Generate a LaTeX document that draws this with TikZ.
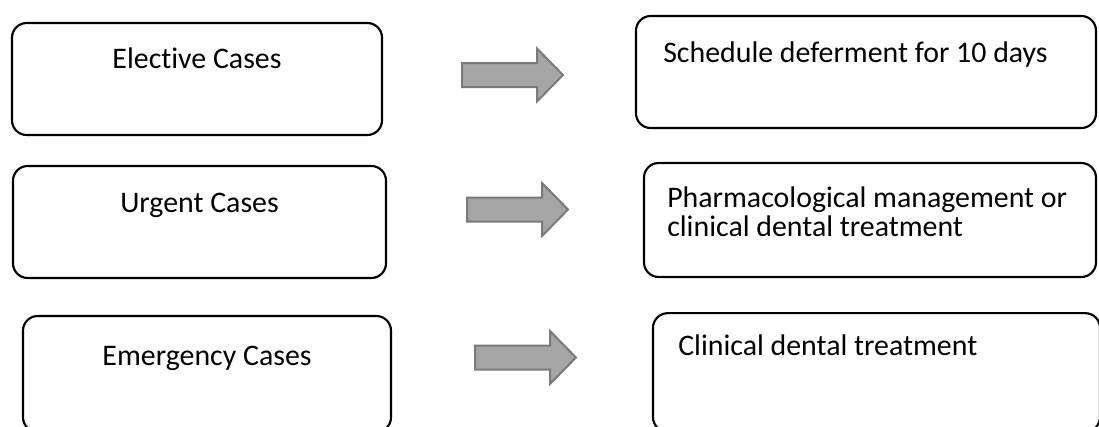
\documentclass[tikz,border=0pt]{standalone}
\usepackage{fontspec}
\setmainfont{Carlito}[Ligatures=NoCommon]
\usepackage{tikz}
\definecolor{arrowfill}{HTML}{A5A5A5}
\definecolor{arrowgray}{HTML}{7A7A7A}

\begin{document}
\begin{tikzpicture}[x=0.75pt, y=-0.75pt,
    casebox/.style={draw, line width=1.6pt, rounded corners=11pt, minimum height=84pt},
    casetext/.style={font=\fontsize{22.4}{21}\selectfont, inner sep=0pt, anchor=base},
    steptext/.style={font=\fontsize{22.4}{21.5}\selectfont, inner sep=0pt, anchor=base west, align=left},
    blockarrow/.style={draw=arrowgray, fill=arrowfill, line width=1.5pt}]
    \useasboundingbox (0,0) rectangle (1099,426);
    \def\arrowshape{(0,-12) -- (75,-12) -- (75,-26.5) -- (101,0) -- (75,26.5) -- (75,12) -- (0,12) -- cycle}

    % --- Left column: kinds of cases ---
    \node[casebox, minimum width=277.5pt] (elective) at (197,79) {};
    \node[casebox, minimum width=279.75pt] (urgent) at (199.5,222) {};
    \node[casebox, minimum width=276pt, minimum height=87pt] (emergency) at (207,374) {};
    \node[casetext] (electivetxt) at (197,68) {Elective Cases};
    \node[casetext] (urgenttxt) at (199.5,212) {Urgent Cases};
    \node[casetext] (emergencytxt) at (207,365) {Emergency Cases};

    % --- Right column: what to do ---
    \node[casebox, minimum width=345pt] (defer) at (866,72) {};
    \node[casebox, minimum width=339pt, minimum height=85.5pt] (pharma) at (870,220) {};
    \node[casebox, minimum width=335.25pt, minimum height=89pt] (clinical) at (876.5,372.5) {};
    \node[steptext] (defertxt) at (663,62) {Schedule deferment for 10 days};
    \node[steptext] (pharmatxt) at (667,236) {Pharmacological management or\\clinical dental treatment};
    \node[steptext] (clinicaltxt) at (678,355) {Clinical dental treatment};

    % Draw Arrows
    \draw[blockarrow, shift={(462,75)}] \arrowshape;
    \draw[blockarrow, shift={(467,209.5)}] \arrowshape;
    \draw[blockarrow, shift={(475,357.5)}] \arrowshape;
\end{tikzpicture}
\end{document}
